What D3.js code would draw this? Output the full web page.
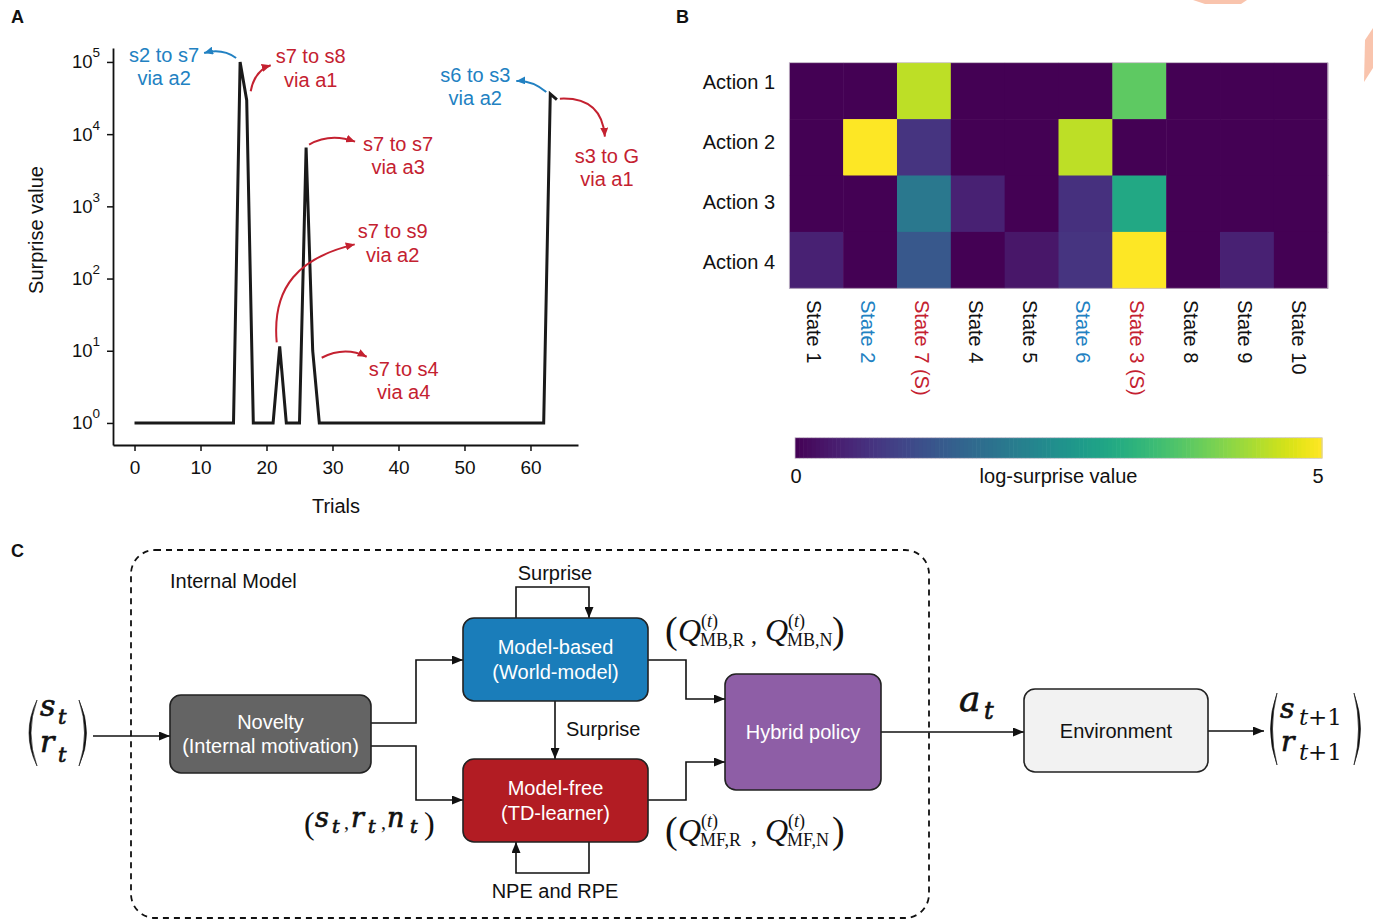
<!DOCTYPE html>
<html>
<head>
<meta charset="utf-8">
<script src="https://cdn.jsdelivr.net/npm/d3@7"></script>
<style>
  body { margin: 0; background: #fff; }
  svg { display: block; font-family: "Liberation Sans", Arial, sans-serif; }
</style>
</head>
<body>
<svg id="fig" width="1373" height="920"></svg>
<script>

// ---------- data ----------

// panel A : surprise value for each trial (index = trial)
let surprise = [
  1, 1, 1, 1, 1, 1, 1, 1, 1, 1,
  1, 1, 1, 1, 1, 1, 100000, 29500, 1, 1,
  1, 1, 11.5, 1, 1, 1, 6500, 10, 1, 1,
  1, 1, 1, 1, 1, 1, 1, 1, 1, 1,
  1, 1, 1, 1, 1, 1, 1, 1, 1, 1,
  1, 1, 1, 1, 1, 1, 1, 1, 1, 1,
  1, 1, 1, 36000, 30000
];
let xTicks = [0, 10, 20, 30, 40, 50, 60];
let yTicks = [1, 10, 100, 1000, 10000, 100000];

// annotations: anchored on a trial, offsets in px from that point
let notes = [
  {lines: ["s2 to s7", "via a2"], kind: "mb", at: 16, from: [-4, -4], ctl: [-18, -14], to: [-36, -9], lab: [-76, 0]},
  {lines: ["s7 to s8", "via a1"], kind: "mf", at: 17, from: [4, -9], ctl: [8, -30], to: [24, -35], lab: [64, -37]},
  {lines: ["s7 to s7", "via a3"], kind: "mf", at: 26, from: [3, -3], ctl: [24, -15], to: [49, -6], lab: [92, 3]},
  {lines: ["s7 to s9", "via a2"], kind: "mf", at: 22, from: [-3, -4], ctl: [-8, -60], ctl2: [20, -89], to: [75, -102], lab: [113, -108]},
  {lines: ["s7 to s4", "via a4"], kind: "mf", at: 27, from: [9, 7], ctl: [32, -5], to: [54, 6], lab: [91, 25]},
  {lines: ["s6 to s3", "via a2"], kind: "mb", at: 63, from: [-4, -2], ctl: [-18, -14], to: [-34, -13], lab: [-75, -12]},
  {lines: ["s3 to G", "via a1"], kind: "mf", at: 64, from: [3, -1], ctl: [45, -3], to: [48, 37], lab: [50, 63]}
];

// panel B : log-surprise per action x state
let states = ["State 1", "State 2", "State 7 (S)", "State 4", "State 5",
              "State 6", "State 3 (S)", "State 8", "State 9", "State 10"];
let actions = ["Action 1", "Action 2", "Action 3", "Action 4"];
let logSurprise = [
  [0,    0, 4.5,  0,    0,   0,    3.75, 0, 0,    0],
  [0,    5, 0.75, 0,    0,   4.5,  0,    0, 0,    0],
  [0,    0, 2.0,  0.45, 0,   0.7,  3.0,  0, 0,    0],
  [0.45, 0, 1.35, 0,    0.3, 0.75, 5,    0, 0.45, 0]
];
let blueStates = ["State 2", "State 6"];
let redStates = ["State 7 (S)", "State 3 (S)"];
let cbTicks = [0, 5];


let BLUE = "#2281c2", RED = "#c42130";
let svg = d3.select("#fig");

let defs = svg.append("defs");
function marker (id, col, len, wid) {
  defs.append("marker").attr("id", id)
    .attr("viewBox", `0 0 ${len} ${wid}`)
    .attr("refX", len).attr("refY", wid / 2)
    .attr("markerWidth", len).attr("markerHeight", wid)
    .attr("markerUnits", "userSpaceOnUse")
    .attr("orient", "auto")
    .append("path").attr("d", `M0,0 L${len},${wid / 2} L0,${wid} Z`).attr("fill", col);
}
marker("arB", BLUE, 9, 8);
marker("arR", RED, 9, 8);
marker("arK", "#111", 11, 9);

// panel letters
[["A", 11, 23], ["B", 676, 23], ["C", 11, 557]].forEach(p => {
  svg.append("text").attr("x", p[1]).attr("y", p[2]).attr("font-size", 18)
    .attr("font-weight", "bold").attr("fill", "#111").text(p[0]);
});

// little peach marks top right
svg.append("polygon").attr("points", "1193,0 1247,0 1241,4 1205,4").attr("fill", "#f9c4ad");
svg.append("polygon").attr("points", "1373,28 1365,40 1364,82 1373,68").attr("fill", "#f9c4ad");


// ================= PANEL A =================

let x = d3.scaleLinear().domain([-3.26, 67.2]).range([113, 578]);
let y = d3.scaleLog().domain([0.495, 1.56e5]).range([445, 48]);

let gA = svg.append("g");

let xAx = gA.append("g").attr("transform", "translate(0,445)")
  .call(d3.axisBottom(x).tickValues(xTicks).tickSize(6).tickSizeOuter(0).tickPadding(10));
let yAx = gA.append("g").attr("transform", "translate(113,0)")
  .call(d3.axisLeft(y).tickValues(yTicks).tickSize(6).tickSizeOuter(0).tickPadding(7).tickFormat(""));

[xAx, yAx].forEach(a => {
  a.select(".domain").attr("stroke", "#111").attr("stroke-width", 1.8);
  a.selectAll(".tick line").attr("stroke", "#111").attr("stroke-width", 1.5);
  a.selectAll(".tick text").attr("fill", "#111").attr("font-family", "Liberation Sans").attr("font-size", 19);
});
yAx.selectAll(".tick text").attr("font-size", 18.5).each(function (d) {
  let t = d3.select(this);
  t.text("10");
  t.append("tspan").attr("dy", -11).attr("font-size", 13.5).text(Math.round(Math.log10(d)));
});

gA.append("text").attr("transform", "translate(43,230) rotate(-90)")
  .attr("text-anchor", "middle").attr("font-size", 20).attr("fill", "#111").text("Surprise value");
gA.append("text").attr("x", 336).attr("y", 513).attr("text-anchor", "middle")
  .attr("font-size", 20).attr("fill", "#111").text("Trials");

let line = d3.line().x((d, i) => x(i)).y(d => y(d));
gA.append("path").datum(surprise).attr("d", line)
  .attr("fill", "none").attr("stroke", "#1a1a1a").attr("stroke-width", 3)
  .attr("stroke-linejoin", "miter");

for (let n of notes) {
  let px = x(n.at), py = y(surprise[n.at]);
  let col = n.kind == "mb" ? BLUE : RED;
  let p = d3.path();
  p.moveTo(px + n.from[0], py + n.from[1]);
  if (n.ctl2) {
    p.bezierCurveTo(px + n.ctl[0], py + n.ctl[1], px + n.ctl2[0], py + n.ctl2[1], px + n.to[0], py + n.to[1]);
  } else {
    p.quadraticCurveTo(px + n.ctl[0], py + n.ctl[1], px + n.to[0], py + n.to[1]);
  }
  gA.append("path").attr("d", p.toString()).attr("fill", "none")
    .attr("stroke", col).attr("stroke-width", 2)
    .attr("marker-end", n.kind == "mb" ? "url(#arB)" : "url(#arR)");
  n.lines.forEach((s, k) => {
    gA.append("text").attr("x", px + n.lab[0]).attr("y", py + n.lab[1] + k * 23.5)
      .attr("text-anchor", "middle").attr("font-size", 20).attr("fill", col).text(s);
  });
}


// ================= PANEL B =================

let gB = svg.append("g");
let cx = d3.scaleBand().domain(states).range([789.3, 1327.7]);
let cy = d3.scaleBand().domain(actions).range([62.7, 288.3]);
let ly = d3.scaleBand().domain(actions).range([51.7, 291.7]);
let color = d3.scaleSequential(d3.interpolateViridis).domain([0, 5]);

let cells = [];
logSurprise.forEach((row, i) => row.forEach((v, j) => cells.push({a: actions[i], s: states[j], v: v})));

gB.selectAll("rect.cell").data(cells).enter().append("rect")
  .attr("class", "cell")
  .attr("x", d => cx(d.s)).attr("y", d => cy(d.a))
  .attr("width", cx.bandwidth() + 0.5).attr("height", cy.bandwidth() + 0.5)
  .attr("fill", d => color(d.v));
gB.append("rect").attr("x", 789.3).attr("y", 62.7)
  .attr("width", cx.range()[1] - cx.range()[0]).attr("height", cy.range()[1] - cy.range()[0])
  .attr("fill", "none").attr("stroke", "#c9c0cc").attr("stroke-width", 0.8);

gB.selectAll("text.act").data(actions).enter().append("text")
  .attr("class", "act")
  .attr("x", 775).attr("y", d => ly(d) + ly.bandwidth() / 2)
  .attr("dy", "0.35em").attr("text-anchor", "end")
  .attr("font-size", 20).attr("fill", "#111").text(d => d);

gB.selectAll("text.st").data(states).enter().append("text")
  .attr("class", "st")
  .attr("transform", d => `translate(${cx(d) + cx.bandwidth() / 2 - 2},300) rotate(90)`)
  .attr("dy", "0.35em").attr("font-size", 20)
  .attr("fill", d => blueStates.includes(d) ? BLUE : redStates.includes(d) ? RED : "#111")
  .text(d => d);

// colorbar
let cb = d3.scaleLinear().domain([0, 5]).range([795, 1322]);
let steps = d3.range(0, 5, 5 / 128);
gB.selectAll("rect.cb").data(steps).enter().append("rect")
  .attr("class", "cb")
  .attr("x", d => cb(d)).attr("y", 437.7)
  .attr("width", (cb(5) - cb(0)) / 128 + 0.6).attr("height", 20.6)
  .attr("fill", d => color(d + 5 / 256));
gB.append("rect").attr("x", cb(0)).attr("y", 437.7).attr("width", cb(5) - cb(0)).attr("height", 20.6)
  .attr("fill", "none").attr("stroke", "#cfc6d2").attr("stroke-width", 0.8);
gB.selectAll("text.cbt").data(cbTicks).enter().append("text")
  .attr("class", "cbt")
  .attr("x", d => cb(d) + (d == 0 ? 1 : -4)).attr("y", 483)
  .attr("text-anchor", "middle").attr("font-size", 20).attr("fill", "#111").text(d => d);
gB.append("text").attr("x", (cb(0) + cb(5)) / 2).attr("y", 483).attr("text-anchor", "middle")
  .attr("font-size", 20).attr("fill", "#111").text("log-surprise value");


// ================= PANEL C =================

let gC = svg.append("g");

gC.append("rect").attr("x", 131).attr("y", 550).attr("width", 798).attr("height", 368)
  .attr("rx", 24).attr("fill", "none").attr("stroke", "#111")
  .attr("stroke-width", 1.8).attr("stroke-dasharray", "6,5");
gC.append("text").attr("x", 170).attr("y", 588).attr("font-size", 20).attr("fill", "#111").text("Internal Model");

let boxes = [
  {x: 170, y: 695, w: 201, h: 78, fill: "#646464", tc: "#fff", lines: ["Novelty", "(Internal motivation)"]},
  {x: 463, y: 618, w: 185, h: 83, fill: "#1a7dba", tc: "#fff", lines: ["Model-based", "(World-model)"]},
  {x: 463, y: 759, w: 185, h: 83, fill: "#b21c23", tc: "#fff", lines: ["Model-free", "(TD-learner)"]},
  {x: 725, y: 674, w: 156, h: 116, fill: "#8e5ea6", tc: "#fff", lines: ["Hybrid policy"]},
  {x: 1024, y: 689, w: 184, h: 83, fill: "#f2f2f2", tc: "#111", lines: ["Environment"]}
];

let links = [
  "M93,736 H170",
  "M371,723 H416 V660 H463",
  "M371,746 H416 V800 H463",
  "M516,618 V587 H589 V618",
  "M555,701 V759",
  "M589,842 V873 H516 V842",
  "M648,660 H686 V699 H725",
  "M648,800 H686 V762 H725",
  "M881,732 H1024",
  "M1208,731 H1264"
];
gC.selectAll("path.link").data(links).enter().append("path")
  .attr("class", "link").attr("d", d => d)
  .attr("fill", "none").attr("stroke", "#111").attr("stroke-width", 1.6)
  .attr("marker-end", "url(#arK)");

for (let b of boxes) {
  gC.append("rect").attr("x", b.x).attr("y", b.y).attr("width", b.w).attr("height", b.h)
    .attr("rx", 11).attr("fill", b.fill).attr("stroke", "#222").attr("stroke-width", 1.6);
  let mid = b.y + b.h / 2;
  b.lines.forEach((s, k) => {
    gC.append("text").attr("x", b.x + b.w / 2)
      .attr("y", mid + (k - (b.lines.length - 1) / 2) * 24.5)
      .attr("dy", "0.35em").attr("text-anchor", "middle")
      .attr("font-size", 20).attr("fill", b.tc).text(s);
  });
}

[["Surprise", 555, 573, "middle"], ["Surprise", 566, 729, "start"], ["NPE and RPE", 555, 891, "middle"]]
  .forEach(t => {
    gC.append("text").attr("x", t[1]).attr("y", t[2]).attr("dy", "0.35em")
      .attr("text-anchor", t[3]).attr("font-size", 20).attr("fill", "#111").text(t[0]);
  });

// math
function mt (x0, y0, s, size, o) {
  o = o || {};
  let t = gC.append("text").attr("x", x0).attr("y", y0)
    .attr("font-family", o.fam || "DejaVu Serif")
    .attr("font-size", size)
    .attr("font-style", o.up ? "normal" : "italic")
    .attr("fill", "#111").text(s);
  if (o.bold) t.attr("stroke", "#111").attr("stroke-width", 0.7);
  return t;
}
function paren (x0, y0, y1, dir, bulge) {
  let m = (y0 + y1) / 2;
  let p = `M${x0},${y0} Q${x0 + dir * bulge * 2},${m} ${x0},${y1} Q${x0 + dir * (bulge * 2 - 4)},${m} ${x0},${y0} Z`;
  gC.append("path").attr("d", p).attr("fill", "#111").attr("stroke", "#111").attr("stroke-width", 0.6);
}

// input vector
paren(37, 700, 766, -1, 8);
paren(79, 700, 766, 1, 7.5);
mt(40, 716, "s", 30, {bold: true});
mt(58, 724, "t", 21, {bold: true});
mt(40, 752, "r", 30, {bold: true});
mt(58, 762, "t", 21, {bold: true});

// output vector
paren(1277, 693, 765, -1, 6.5);
paren(1354, 693, 765, 1, 6.5);
mt(1280, 718, "s", 28, {bold: true});
mt(1299, 725, "t", 23);
mt(1308, 725, "+1", 23, {up: true});
mt(1281, 751, "r", 28, {bold: true});
mt(1299, 760, "t", 23);
mt(1308, 760, "+1", 23, {up: true});

// action
mt(959, 711, "a", 36, {bold: true});
mt(984, 719, "t", 24, {bold: true});

// (s_t, r_t, n_t)
mt(304, 834, "(", 32, {fam: "Liberation Serif", up: true});
mt(315, 827, "s", 27, {bold: true});
mt(332, 833, "t", 19, {bold: true});
mt(344, 829, ",", 20, {fam: "Liberation Serif", up: true});
mt(351, 827, "r", 27, {bold: true});
mt(368, 833, "t", 19, {bold: true});
mt(381, 829, ",", 20, {fam: "Liberation Serif", up: true});
mt(387, 827, "n", 27, {bold: true});
mt(410, 833, "t", 19, {bold: true});
mt(424, 834, ")", 32, {fam: "Liberation Serif", up: true});

// Q labels
function qlabel (yb, a, b) {
  let LS = {fam: "Liberation Serif", up: true};
  let LI = {fam: "Liberation Serif"};
  mt(665, yb + 2, "(", 38, LS);
  mt(678, yb, "Q", 32, LI);
  mt(701, yb - 14, "(", 18, LS); mt(707, yb - 14, "t", 18, LI); mt(712, yb - 14, ")", 18, LS);
  mt(700, yb + 5, a, 18, LS);
  mt(751, yb + 2, ",", 24, LS);
  mt(765, yb, "Q", 32, LI);
  mt(788, yb - 14, "(", 18, LS); mt(794, yb - 14, "t", 18, LI); mt(799, yb - 14, ")", 18, LS);
  mt(787, yb + 5, b, 18, LS);
  mt(832, yb + 2, ")", 38, LS);
}
qlabel(641, "MB,R", "MB,N");
qlabel(841, "MF,R", "MF,N");

</script>
</body>
</html>
